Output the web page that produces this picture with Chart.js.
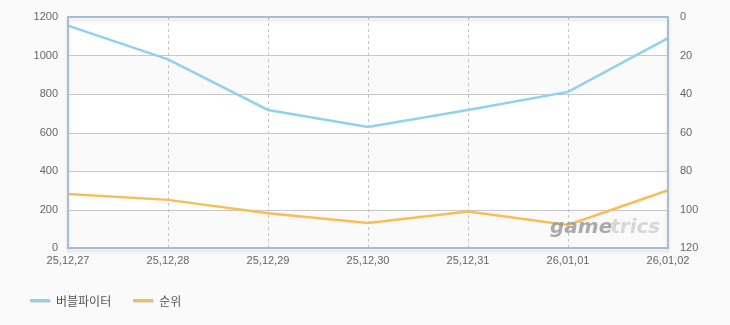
<!DOCTYPE html>
<html>
<head>
<meta charset="utf-8">
<script src="https://cdn.jsdelivr.net/npm/chart.js@4"></script>
<style>
  html, body { margin: 0; padding: 0; background: #fafafa; }
  #wrap { position: relative; width: 730px; height: 325px; }
  #legend { position: absolute; left: 30px; top: 288px; font: 12px "Noto Sans CJK KR", sans-serif; color: #555; }
  .item { display: inline-flex; align-items: center; margin-right: 22px; }
  .swatch { width: 20px; height: 3px; margin-right: 6px; box-shadow: 1px 1px 0 #ddd; }
</style>
</head>
<body>
<div id="wrap">
  <canvas id="chart" width="730" height="325"></canvas>
  <div id="legend"></div>
</div>
<script>
const dates = ['25,12,27', '25,12,28', '25,12,29', '25,12,30', '25,12,31', '26,01,01', '26,01,02'];
const players = [1155, 980, 717, 629, 717, 811, 1090];
const ranks = [92, 95, 102, 107, 101, 108, 90];
const seriesNames = ['버블파이터', '순위'];
const colors = ['#8ed2f0', '#f9bd58'];

const tickFont = { family: '"Liberation Sans", Arial', size: 11 };

// 배경 띠 + 테두리 + 워터마크
const framePlugin = {
  id: 'frame',
  beforeDatasetsDraw(chart) {
    const { ctx, chartArea: a, scales } = chart;
    const y = scales.y;
    ctx.save();
    for (let v = 0; v < 1200; v += 200) {
      const top = y.getPixelForValue(v + 200);
      const bottom = y.getPixelForValue(v);
      ctx.fillStyle = (v / 200) % 2 === 0 ? '#fafafa' : '#ffffff';
      ctx.fillRect(a.left, top, a.right - a.left, bottom - top);
    }
    ctx.strokeStyle = '#c8c8c8';
    ctx.lineWidth = 1;
    for (let v = 200; v < 1200; v += 200) {
      const py = Math.round(y.getPixelForValue(v)) + 0.5;
      ctx.beginPath(); ctx.moveTo(a.left, py); ctx.lineTo(a.right, py); ctx.stroke();
    }
    ctx.setLineDash([3, 3]);
    ctx.strokeStyle = '#c4c4c4';
    const x = scales.x;
    for (let i = 1; i < dates.length - 1; i++) {
      const px = Math.round(x.getPixelForValue(i)) + 0.5;
      ctx.beginPath(); ctx.moveTo(px, a.top); ctx.lineTo(px, a.bottom); ctx.stroke();
    }
    ctx.restore();
  },
  afterDatasetsDraw(chart) {
    const { ctx, chartArea: a } = chart;
    ctx.save();
    ctx.font = 'italic bold 20px "DejaVu Sans", sans-serif';
    ctx.textBaseline = 'alphabetic';
    ctx.fillStyle = 'rgba(150,150,150,0.8)';
    ctx.fillText('game', 550, 233);
    const w = ctx.measureText('game').width;
    ctx.fillStyle = 'rgba(200,200,200,0.7)';
    ctx.fillText('trics', 550 + w - 2, 233);
    ctx.restore();
    ctx.save();
    ctx.shadowColor = 'rgba(0,0,0,0.12)';
    ctx.shadowOffsetY = 3;
    ctx.shadowBlur = 3;
    ctx.strokeStyle = '#a9bdd2';
    ctx.lineWidth = 2;
    ctx.strokeRect(a.left, a.top, a.right - a.left, a.bottom - a.top);
    ctx.restore();
  }
};

new Chart(document.getElementById('chart'), {
  type: 'line',
  data: {
    labels: dates,
    datasets: [
      { label: seriesNames[0], data: players, borderColor: colors[0], borderWidth: 2.5, pointRadius: 0, tension: 0, yAxisID: 'y' },
      { label: seriesNames[1], data: ranks, borderColor: colors[1], borderWidth: 2.5, pointRadius: 0, tension: 0, yAxisID: 'y1' }
    ]
  },
  options: {
    responsive: false,
    animation: false,
    layout: { padding: { top: 17, bottom: 0, left: 0, right: 0 } },
    plugins: { legend: { display: false }, tooltip: { enabled: false } },
    scales: {
      x: {
        offset: false,
        grid: { display: false },
        border: { display: false },
        ticks: { color: '#666', font: tickFont, padding: -2, maxRotation: 0, autoSkip: false },
        afterFit(s) { s.height = 77; }
      },
      y: {
        position: 'left',
        min: 0, max: 1200,
        grid: { display: false },
        border: { display: false },
        ticks: { stepSize: 200, color: '#666', font: tickFont, padding: 2, callback: v => String(v) },
        afterFit(s) { s.width = 68; }
      },
      y1: {
        position: 'right',
        reverse: true,
        min: 0, max: 120,
        grid: { display: false },
        border: { display: false },
        ticks: { stepSize: 20, color: '#666', font: tickFont, padding: 4, callback: v => String(v) },
        afterFit(s) { s.width = 62; }
      }
    }
  },
  plugins: [framePlugin]
});

document.getElementById('legend').innerHTML = seriesNames.map((n, i) =>
  `<span class="item"><span class="swatch" style="background:${colors[i]}"></span>${n}</span>`
).join('');
</script>
</body>
</html>
